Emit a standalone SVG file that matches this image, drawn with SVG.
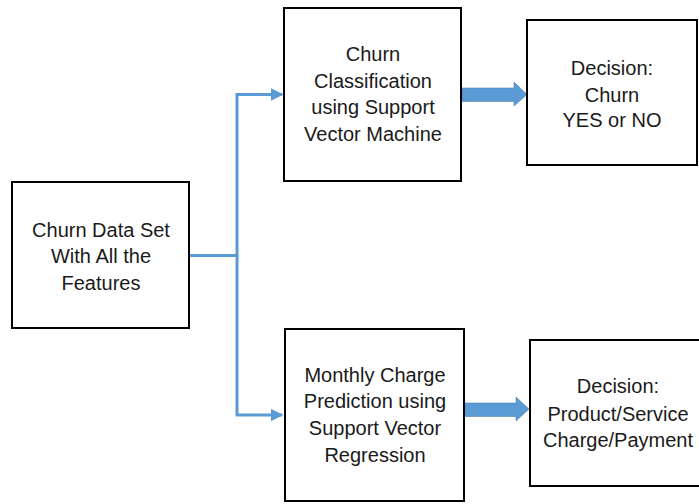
<svg xmlns="http://www.w3.org/2000/svg" width="699" height="504" viewBox="0 0 699 504">
<defs>
<style>
.box{fill:#fff;stroke:#000;stroke-width:2}
.t{font-family:"Liberation Sans",Arial,sans-serif;font-size:20px;fill:#1a1a1a;text-anchor:middle}
.ln{fill:none;stroke:#5B9BD5;stroke-width:3}
.blk{fill:#5B9BD5;stroke:#41719C;stroke-width:0.5}
</style>
<marker id="ah" viewBox="0 0 10 10" refX="9" refY="5" markerWidth="4.2" markerHeight="4.2" markerUnits="strokeWidth" orient="auto">
<path d="M0,0 L10,5 L0,10 z" fill="#5B9BD5"/>
</marker>
</defs>
<rect width="699" height="504" fill="#fff"/>
<g id="connectors">
<polyline class="ln" points="189,255.5 237,255.5 237,94.5 282,94.5" marker-end="url(#ah)"/>
<polyline class="ln" points="237,255.5 237,415 282,415" marker-end="url(#ah)"/>
<path class="blk" d="M462,88 L514,88 L514,82 L527,94.5 L514,106 L514,101.5 L462,101.5 z"/>
<path class="blk" d="M464,403 L516,403 L516,397 L529,409 L516,421 L516,416.5 L464,416.5 z"/>
</g>
<g id="data">
<rect class="box" x="12" y="182" width="177" height="146"/>
<text class="t" x="101" y="237">Churn Data Set</text>
<text class="t" x="101" y="263">With All the</text>
<text class="t" x="101" y="290">Features</text>
</g>
<g id="svm">
<rect class="box" x="284" y="8" width="177" height="173"/>
<text class="t" x="373" y="61">Churn</text>
<text class="t" x="373" y="88">Classification</text>
<text class="t" x="373" y="114">using Support</text>
<text class="t" x="373" y="141">Vector Machine</text>
</g>
<g id="dec1">
<rect class="box" x="527" y="20" width="170" height="145"/>
<text class="t" x="612" y="75">Decision:</text>
<text class="t" x="612" y="102">Churn</text>
<text class="t" x="612" y="127">YES or NO</text>
</g>
<g id="svr">
<rect class="box" x="285" y="329" width="179" height="172"/>
<text class="t" x="375" y="382">Monthly Charge</text>
<text class="t" x="375" y="408">Prediction using</text>
<text class="t" x="375" y="435">Support Vector</text>
<text class="t" x="375" y="462">Regression</text>
</g>
<g id="dec2">
<rect class="box" x="530" y="340" width="172" height="146"/>
<text class="t" x="618" y="393">Decision:</text>
<text class="t" x="618" y="421">Product/Service</text>
<text class="t" x="618" y="447">Charge/Payment</text>
</g>
</svg>
